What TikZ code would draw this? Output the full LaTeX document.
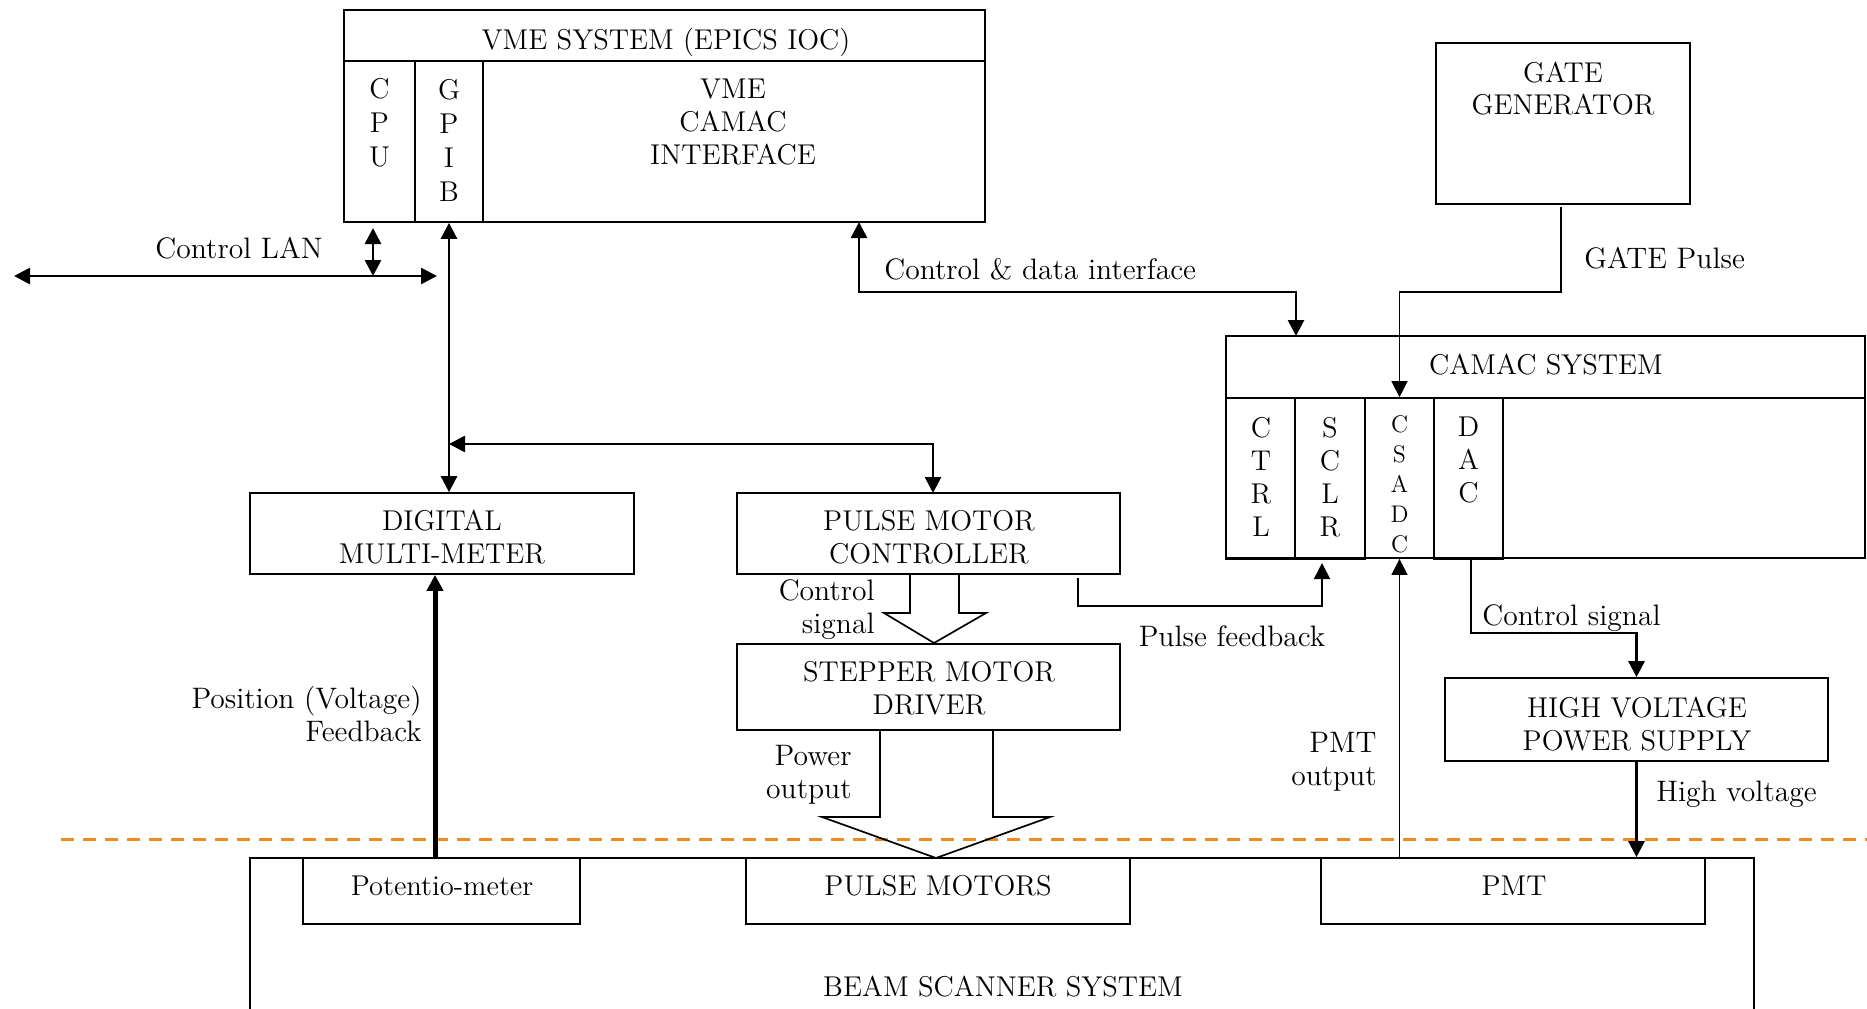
\documentclass[tikz,border=0pt]{standalone}
\usetikzlibrary{arrows.meta,fit}
\definecolor{dashorange}{RGB}{240,140,30}
\begin{document}
\begin{tikzpicture}[x=0.5pt,y=-0.5pt,
  every node/.style={font=\fontsize{14.3}{16.5}\selectfont},
  box/.style={draw, line width=0.85pt, inner sep=0pt},
  txt/.style={inner sep=0pt, align=center},
  lbl/.style={inner sep=0pt, font=\fontsize{14.8}{16.5}\selectfont},
  tip/.style={-{Triangle[length=8pt,width=8pt]}},
  dbl/.style={{Triangle[length=8pt,width=8pt]}-{Triangle[length=8pt,width=8pt]}},
  thickln/.style={line width=1.35pt},
  thinln/.style={line width=0.65pt},
  midln/.style={line width=0.85pt}]
\useasboundingbox (0,0) rectangle (1867,1008);

% boundary line
\draw[dashorange, line width=1.5pt, dash pattern=on 6.5pt off 4.5pt] (61,839) -- (1867,839);

% VME system
\node[box, fit={(344,10) (985,61)}] (vmehead) {};
\node[box, fit={(483,61) (985,222)}] (vmeif) {};
\node[box, fit={(344,61) (415,222)}] (cpu) {};
\node[box, fit={(415,61) (483,222)}] (gpib) {};
\node[txt] (vmeT) at (666,42) {VME SYSTEM (EPICS IOC)};
\node[txt, font=\fontsize{14.3}{17}\selectfont] (cpuT) at (379.5,123) {C\\P\\U};
\node[txt, font=\fontsize{14.3}{17}\selectfont] (gpibT) at (449,140) {G\\P\\I\\B};
\node[txt] (vmeifT) at (733,122) {VME\\CAMAC\\INTERFACE};

% Gate generator
\node[box, fit={(1436,43) (1690,204)}] (gate) {};
\node[txt, font=\fontsize{14.3}{16}\selectfont] (gateT) at (1563,89) {GATE\\GENERATOR};

% CAMAC system
\node[box, fit={(1226,336) (1865,398)}] (camhead) {};
\node[box, fit={(1226,398) (1865,558)}] (cambody) {};
\node[box, fit={(1226,398) (1295,559)}] (ctrl) {};
\node[box, fit={(1295,398) (1365,559)}] (sclr) {};
\node[box, fit={(1365,398) (1434,558)}] (csadc) {};
\node[box, fit={(1434,398) (1503,559)}] (dac) {};
\node[txt] (camT) at (1546,365) {CAMAC SYSTEM};
\node[txt] (ctrlT) at (1261,477) {C\\T\\R\\L};
\node[txt] (sclrT) at (1330,477) {S\\C\\L\\R};
\node[txt, font=\fontsize{12}{15}\selectfont] (csadcT) at (1399.5,484) {C\\S\\A\\D\\C};
\node[txt] (dacT) at (1468.5,460) {D\\A\\C};

% middle boxes
\node[box, fit={(250,493) (634,574)}] (dmm) {};
\node[txt] (dmmT) at (442,537) {DIGITAL\\MULTI-METER};
\node[box, fit={(737,493) (1120,574)}] (pmc) {};
\node[txt] (pmcT) at (929,537) {PULSE MOTOR\\CONTROLLER};
\node[box, fit={(737,644) (1120,730)}] (smd) {};
\node[txt] (smdT) at (929,688.5) {STEPPER MOTOR\\DRIVER};
\node[box, fit={(1445,678) (1828,761)}] (hvps) {};
\node[txt] (hvpsT) at (1637,724) {HIGH VOLTAGE\\POWER SUPPLY};

% beam scanner system
\draw[midln] (250,1012) -- (250,858) -- (1754,858) -- (1754,1012);
\node[box, fit={(303,858) (580,924)}] (potm) {};
\node[txt] (potmT) at (442,886) {Potentio-meter};
\node[box, fit={(746,858) (1130,924)}] (pmot) {};
\node[txt] (pmotT) at (938,886) {PULSE MOTORS};
\node[box, fit={(1321,858) (1705,924)}] (pmt) {};
\node[txt] (pmtT) at (1514,886) {PMT};
\node[txt] (bssT) at (1003,987) {BEAM SCANNER SYSTEM};

% Control LAN
\coordinate (lanL) at (14,276);
\coordinate (lanR) at (437,276);
\coordinate (lanTop) at (373,228);
\draw[dbl, thickln] (lanL) -- (lanR);
\draw[dbl, thickln] (lanTop) -- (lanTop |- lanL);
\node[lbl] (lanT) at (239,248) {Control LAN};

% GPIB bus
\draw[dbl, thickln] (gpib.south) -- (gpib.south |- dmm.north);
\coordinate (br) at (449,444);
\coordinate (pmcIn) at (933,493);
\draw[dbl, thickln] (br) -| (pmcIn);

% Control & data interface
\coordinate (vmeOut) at (859,222);
\coordinate (cdBend) at (859,292);
\coordinate (camIn) at (1296,336);
\draw[dbl, thickln] (vmeOut) -- (cdBend) -| (camIn);
\node[lbl, anchor=west] (cdT) at (884,269) {Control \& data interface};

% Gate pulse
\coordinate (gOut) at (1561,207);
\coordinate (gBend) at (1561,292);
\draw[tip, thinln] (gOut) -- (gBend) -| (csadc.north);
\node[lbl, anchor=west] (gpT) at (1584,258) {GATE Pulse};

% Position feedback
\coordinate (posB) at (435,858);
\draw[tip, line width=2.5pt] (posB) -- (posB |- dmm.south);
\node[lbl, align=right, anchor=east] (posT) at (422,714) {Position (Voltage)\\Feedback};

% Control signal block arrow
\draw[midln] (910,574) -- (910,613) -- (884,613) -- (934,643) -- (986,613) -- (959,613) -- (959,574);
\node[lbl, align=right, anchor=east] (csT) at (875,609.5) {Control\\signal};

% Power output block arrow
\draw[midln] (880,730) -- (880,817) -- (822,817) -- (936,858) -- (1050,817) -- (993,817) -- (993,730);
\node[lbl, align=right, anchor=east] (poT) at (852,775) {Power\\output};

% Pulse feedback
\coordinate (pfS) at (1078,578);
\coordinate (pfA) at (1078,606);
\coordinate (sclrIn) at (1322,563);
\draw[tip, midln] (pfS) -- (pfA) -| (sclrIn);
\node[lbl] (pfT) at (1232,636) {Pulse feedback};

% PMT output
\draw[tip, thinln] (csadc.south |- pmt.north) -- (csadc.south);
\node[lbl, align=right, anchor=east] (pmtoT) at (1377,762) {PMT\\output};

% DAC control signal
\coordinate (dBend) at (1471,633);
\draw[tip, thickln] (dac.south -| dBend) -- (dBend) -| (hvps.north);
\node[lbl, anchor=west] (dcT) at (1482,618.5) {Control signal};

% High voltage
\draw[tip, thickln] (hvps.south) -- (hvps.south |- pmt.north);
\node[lbl, anchor=west] (hvT) at (1656,794) {High voltage};
\end{tikzpicture}
\end{document}
